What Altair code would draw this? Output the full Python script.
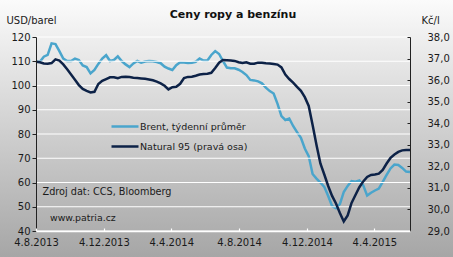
import altair as alt
import pandas as pd

# ---------------- data (weekly) ----------------
start_date = "2013-08-04"
brent_label = "Brent, týdenní průměr"
natural_label = "Natural 95 (pravá osa)"
title_text = "Ceny ropy a benzínu"

brent = [
    109.8, 109.8, 111.9, 112.6, 117.4, 117.1, 114.2, 111.1, 110.1, 110.1,
    111.1, 110.5, 108.3, 107.6, 105.0, 106.4, 108.9, 111.1, 112.5, 110.1,
    110.5, 112.0, 110.1, 108.7, 107.6, 109.1, 110.1, 109.4, 109.9, 110.1,
    110.0, 109.7, 109.2, 107.8, 107.0, 106.4, 108.4, 109.6, 109.5, 109.3,
    109.4, 109.8, 111.1, 110.3, 110.3, 112.6, 114.2, 113.0, 110.1, 107.4,
    107.1, 107.1, 106.5, 105.6, 104.3, 102.3, 102.1, 101.7, 100.9, 99.1,
    97.7, 96.7, 92.4, 87.4, 85.8, 86.4, 83.3, 80.8, 78.4, 74.0,
    70.9, 63.5, 61.6, 60.0, 58.2, 54.4, 50.3, 49.4, 51.1, 56.1,
    58.6, 60.6, 60.3, 60.8, 58.8, 54.6, 55.8, 56.7, 57.5, 60.3,
    63.1, 65.8, 67.4, 67.2, 66.0, 64.5, 64.3,
]

natural = [
    36.85, 36.83, 36.77, 36.76, 36.79, 36.96, 36.91, 36.73, 36.50, 36.26,
    36.02, 35.77, 35.59, 35.50, 35.43, 35.46, 35.82, 35.97, 36.05, 36.13,
    36.13, 36.09, 36.15, 36.16, 36.14, 36.11, 36.10, 36.08, 36.06, 36.03,
    35.99, 35.93, 35.85, 35.74, 35.57, 35.67, 35.69, 35.83, 36.10, 36.15,
    36.16, 36.20, 36.26, 36.28, 36.30, 36.34, 36.56, 36.81, 36.93, 36.92,
    36.91, 36.89, 36.83, 36.79, 36.83, 36.76, 36.76, 36.81, 36.81, 36.78,
    36.77, 36.75, 36.72, 36.59, 36.26, 36.05, 35.88, 35.69, 35.50, 35.21,
    34.80, 33.92, 32.99, 32.13, 31.62, 31.09, 30.63, 30.28, 29.84, 29.44,
    29.72, 30.30, 30.67, 31.03, 31.30, 31.51, 31.60, 31.62, 31.66, 31.83,
    32.13, 32.39, 32.55, 32.67, 32.74, 32.76, 32.76,
]

left_ticks = [40, 50, 60, 70, 80, 90, 100, 110, 120]
right_ticks = [29, 30, 31, 32, 33, 34, 35, 36, 37, 38]
x_tick_dates = [(2013, 8, 4), (2013, 12, 4), (2014, 4, 4), (2014, 8, 4), (2014, 12, 4), (2015, 4, 4)]

# ---------------- styling ----------------
FONT = "DejaVu Sans"
TXT = "#1a1a1a"
C_BRENT = "#4aa5cc"
C_NAT = "#0d2247"
GRID = "#ffffff"
W, H = 374, 194

df_b = pd.DataFrame({
    "date": pd.date_range(start_date, periods=len(brent), freq="7D"),
    "value": brent, "series": brent_label})
df_n = pd.DataFrame({
    "date": pd.date_range(start_date, periods=len(natural), freq="7D"),
    "value": natural, "series": natural_label})
df_grid = pd.DataFrame({"gv": left_ticks})

x_enc = alt.X(
    "date:T",
    scale=alt.Scale(domain=[alt.DateTime(year=2013, month=8, date=4),
                            alt.DateTime(year=2015, month=6, date=7)]),
    axis=alt.Axis(
        values=[alt.DateTime(year=y, month=m, date=d) for y, m, d in x_tick_dates],
        format="%-d.%-m.%Y", title=None, grid=False,
        labelOverlap=False, labelFlush=False,
        domainColor=GRID, domainWidth=1.5, tickColor=GRID, tickWidth=1.2,
        tickSize={"expr": "-3"}, labelPadding=9,
        labelFont=FONT, labelFontSize=10, labelColor=TXT, zindex=2),
)

left_scale = alt.Scale(domain=[40, 120], nice=False, zero=False)
right_scale = alt.Scale(domain=[29, 38], nice=False, zero=False)

left_axis = alt.Axis(values=left_ticks, grid=False, title="USD/barel",
                     titleAngle=0, titleX=-30, titleY=-17, titleAlign="left",
                     titleBaseline="middle", titleFont=FONT, titleFontSize=10,
                     titleFontWeight="normal", titleColor=TXT,
                     domainColor="#222222", tickColor="#222222", tickSize=4,
                     labelPadding=2, labelFont=FONT, labelFontSize=10,
                     labelColor=TXT, zindex=1)

color_enc = alt.Color(
    "series:N",
    scale=alt.Scale(domain=[brent_label, natural_label], range=[C_BRENT, C_NAT]),
    legend=alt.Legend(
        orient="none", legendX=74, legendY=74.5, title=None, padding=0,
        symbolType="stroke", symbolStrokeWidth=2.5, symbolSize=729,
        labelFont=FONT, labelFontSize=9.5, labelColor=TXT, labelOffset=0,
        rowPadding=-4),
)

bg = alt.Chart(alt.Data(values=[{}])).mark_rect(
    opacity=1,
    fill=alt.Gradient(
        gradient="linear", x1=0, y1=0, x2=0, y2=1,
        stops=[alt.GradientStop(color="#fbfbfb", offset=0),
               alt.GradientStop(color="#a6a6a6", offset=1)]),
).encode(x=alt.value(-36), x2=alt.value(W + 43), y=alt.value(-37), y2=alt.value(H + 26))

grid = alt.Chart(df_grid).mark_rule(strokeWidth=1.2, opacity=1).encode(
    y=alt.Y("gv:Q", scale=left_scale, axis=left_axis),
    color=alt.value(GRID))

brent_line = alt.Chart(df_b).mark_line(strokeWidth=2.5).encode(
    x=x_enc,
    y=alt.Y("value:Q", scale=left_scale, axis=left_axis),
    color=color_enc,
)

nat_line = alt.Chart(df_n).mark_line(strokeWidth=2.5).encode(
    x=x_enc,
    y=alt.Y("value:Q", scale=right_scale,
            axis=alt.Axis(orient="right", values=right_ticks, grid=False, title="Kč/l",
                          labelExpr="replace(format(datum.value, '.1f'), '.', ',')",
                          titleAngle=0, titleX=11, titleY=-17, titleAlign="left",
                          titleBaseline="middle", titleFont=FONT, titleFontSize=10,
                          titleFontWeight="normal", titleColor=TXT,
                          domainColor="#222222", tickColor="#222222",
                          tickSize={"expr": "-3"}, labelPadding=20,
                          labelFont=FONT, labelFontSize=10, labelColor=TXT, zindex=1)),
    color=color_enc,
)

title = alt.Chart(alt.Data(values=[{}])).mark_text(
    text=title_text, align="center", baseline="middle",
    font=FONT, fontSize=11, fontWeight="bold", color="#111111",
).encode(x=alt.value(197), y=alt.value(-22))

src = alt.Chart(alt.Data(values=[{}])).mark_text(
    text="Zdroj dat: CCS, Bloomberg", align="left", baseline="middle",
    font=FONT, fontSize=9.7, color=TXT,
).encode(x=alt.value(6.5), y=alt.value(155))

web = alt.Chart(alt.Data(values=[{}])).mark_text(
    text="www.patria.cz", align="left", baseline="middle",
    font=FONT, fontSize=9.4, color=TXT,
).encode(x=alt.value(14), y=alt.value(181))

left_layer = alt.layer(bg, brent_line, title, src, web, grid)

chart = alt.layer(left_layer, nat_line).resolve_scale(y="independent").properties(
    width=W, height=H,
    autosize=alt.AutoSizeParams(type="none"),
    padding={"left": 36, "top": 37, "right": 43, "bottom": 26},
).configure_view(stroke=None)

chart.save("out.html", embed_options={"renderer": "svg", "actions": False})
